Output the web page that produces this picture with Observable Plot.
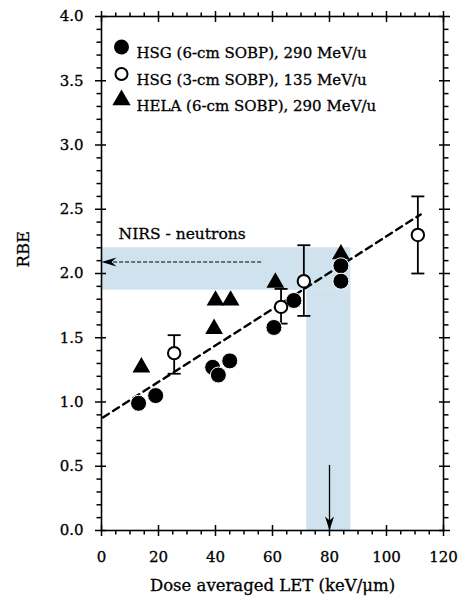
<!DOCTYPE html>
<html><head><meta charset="utf-8">
<script src="https://cdn.jsdelivr.net/npm/d3@7"></script>
<script src="https://cdn.jsdelivr.net/npm/@observablehq/plot@0.6"></script>
<style>
html,body{margin:0;padding:0;background:#fff;}
#chart svg{display:block;}
#chart svg text{stroke:#000;stroke-width:0.3px;}
</style></head>
<body><div id="chart"></div>
<script>
// ---- data ----
const hsg6X = [13, 19, 39, 41, 45, 60.5, 67.5, 84, 84];
const hsg6Y = [0.99, 1.05, 1.27, 1.21, 1.32, 1.58, 1.79, 2.06, 1.94];

const hsg3X  = [25.5, 63, 71, 111];
const hsg3Y  = [1.38, 1.74, 1.94, 2.30];
const hsg3Lo = [1.22, 1.61, 1.67, 2.00];
const hsg3Hi = [1.52, 1.88, 2.22, 2.60];

const helaX = [14, 39.5, 40, 45.3, 61, 84];
const helaY = [1.27, 1.57, 1.79, 1.79, 1.93, 2.15];

const fitX = [0.5, 112];
const fitY = [0.88, 2.46];

const bandX1 = [0, 72];
const bandX2 = [87.5, 87.5];
const bandY1 = [1.87, 0];
const bandY2 = [2.20, 1.87];

const nirsLabel = "NIRS - neutrons";
const nirsLabelX = 6, nirsLabelY = 2.31;
const nirsArrowX = [56, 0], nirsArrowY = 2.09;
const letArrowX = 80, letArrowY = [0.51, 0];

const legendLabels = ["HSG (6-cm SOBP), 290 MeV/u", "HSG (3-cm SOBP), 135 MeV/u", "HELA (6-cm SOBP), 290 MeV/u"];

const xMajor = [0, 20, 40, 60, 80, 100, 120];
const xMinor = [5,10,15,25,30,35,45,50,55,65,70,75,85,90,95,105,110,115];
const yMajor = [0, 0.5, 1, 1.5, 2, 2.5, 3, 3.5, 4];
const yMinor = d3.range(0, 41).filter(i => i % 5 !== 0).map(i => i / 10);

const xTitle = "Dose averaged LET (keV/μm)";
const yTitle = "RBE";

// ---- tables ----
const hsg6 = hsg6X.map((x, i) => ({x, y: hsg6Y[i]}));
const hsg3 = hsg3X.map((x, i) => ({x, y: hsg3Y[i], lo: hsg3Lo[i], hi: hsg3Hi[i]}));
const hela = helaX.map((x, i) => ({x, y: helaY[i]}));
const fit = fitX.map((x, i) => ({x, y: fitY[i]}));
const bands = bandX1.map((x1, i) => ({x1, x2: bandX2[i], y1: bandY1[i], y2: bandY2[i]}));

// ---- layout ----
const W = 460, H = 606, mL = 101, mR = 17, mT = 16, mB = 76;
const FONT = "DejaVu Serif";

// custom symbols
const capSym = {draw(ctx, size) { const r = Math.sqrt(size / Math.PI); ctx.moveTo(-r, 0); ctx.lineTo(r, 0); }};
const leftHead = {draw(ctx) { ctx.moveTo(0, 0); ctx.lineTo(15, -4.5); ctx.lineTo(10, 0); ctx.lineTo(15, 4.5); ctx.closePath(); }};
const downHead = {draw(ctx) { ctx.moveTo(0, 0); ctx.lineTo(-4.5, -14); ctx.lineTo(0, -10); ctx.lineTo(4.5, -14); ctx.closePath(); }};

// tick marks on all four sides (outward; major ticks also cross inward)
const tk = {text: null, label: null, stroke: "black", strokeWidth: 1.5};
const tickMarks = [];
for (const a of ["bottom", "top"]) {
  tickMarks.push(Plot.axisX({...tk, anchor: a, ticks: xMinor, tickSize: 4.5}));
  tickMarks.push(Plot.axisX({...tk, anchor: a, ticks: xMajor, tickSize: 6}));
  tickMarks.push(Plot.axisX({...tk, anchor: a, ticks: xMajor, tickSize: -5}));
}
for (const a of ["left", "right"]) {
  tickMarks.push(Plot.axisY({...tk, anchor: a, ticks: yMinor, tickSize: 4.5}));
  tickMarks.push(Plot.axisY({...tk, anchor: a, ticks: yMajor, tickSize: 6}));
  tickMarks.push(Plot.axisY({...tk, anchor: a, ticks: yMajor, tickSize: -5}));
}

const legendDy = [30.5, 57.5, 83.5];
const legendMarks = [];
legendLabels.forEach((lab, i) => {
  const base = {frameAnchor: "top-left", dx: 20, dy: legendDy[i]};
  if (i === 0) legendMarks.push(Plot.dot([0], {...base, r: 7.5, fill: "black", stroke: "none"}));
  if (i === 1) legendMarks.push(Plot.dot([0], {...base, r: 6, fill: "white", stroke: "black", strokeWidth: 2}));
  if (i === 2) legendMarks.push(Plot.dot([0], {...base, symbol: "triangle", r: 6.8, fill: "black", stroke: "none"}));
  legendMarks.push(Plot.text([lab], {frameAnchor: "top-left", dx: 35, dy: legendDy[i], text: d => d, textAnchor: "start", fontSize: 15}));
});

const chart = Plot.plot({
  width: W, height: H,
  marginLeft: mL, marginRight: mR, marginTop: mT, marginBottom: mB,
  x: {domain: [0, 120], axis: null},
  y: {domain: [0, 4], axis: null},
  style: {fontFamily: FONT, color: "black", background: "white"},
  marks: [
    Plot.rect(bands, {x1: "x1", x2: "x2", y1: "y1", y2: "y2", fill: "#cfe2ee"}),
    Plot.frame({stroke: "black", strokeWidth: 1.6}),
    ...tickMarks,
    Plot.axisX({ticks: xMajor, tickSize: 0, tickPadding: 21, fontSize: 15, label: null, tickFormat: d => String(d)}),
    Plot.axisY({ticks: yMajor, tickSize: 0, tickPadding: 18, fontSize: 15, label: null, tickFormat: d3.format(".1f")}),
    Plot.text([xTitle], {frameAnchor: "bottom", dy: 60, text: d => d, fontSize: 16.5}),
    Plot.text([yTitle], {frameAnchor: "left", dx: -78, dy: -6, rotate: -90, text: d => d, fontSize: 16.5}),
    Plot.line(fit, {x: "x", y: "y", stroke: "black", strokeWidth: 2.4, strokeDasharray: "7,5"}),
    Plot.link([0], {x1: () => nirsArrowX[0], x2: () => nirsArrowX[1] + 1.5, y1: () => nirsArrowY, y2: () => nirsArrowY, stroke: "black", strokeWidth: 1.1, strokeDasharray: "4,2"}),
    Plot.dot([0], {x: () => nirsArrowX[1], y: () => nirsArrowY, symbol: leftHead, fill: "black", stroke: "none"}),
    Plot.link([0], {x1: () => letArrowX, x2: () => letArrowX, y1: () => letArrowY[0], y2: () => letArrowY[1] + 0.05, stroke: "black", strokeWidth: 1.3}),
    Plot.dot([0], {x: () => letArrowX, y: () => letArrowY[1], symbol: downHead, fill: "black", stroke: "none"}),
    Plot.ruleX(hsg3, {x: "x", y1: "lo", y2: "hi", stroke: "black", strokeWidth: 1.8}),
    Plot.dot(hsg3, {x: "x", y: "lo", symbol: capSym, r: 6.5, stroke: "black", strokeWidth: 1.8, fill: "none"}),
    Plot.dot(hsg3, {x: "x", y: "hi", symbol: capSym, r: 6.5, stroke: "black", strokeWidth: 1.8, fill: "none"}),
    Plot.dot(hela, {x: "x", y: "y", symbol: "triangle", r: 6.6, fill: "black", stroke: "none"}),
    Plot.dot(hsg6, {x: "x", y: "y", r: 8, fill: "black", stroke: "white", strokeWidth: 1}),
    Plot.dot(hsg3, {x: "x", y: "y", r: 6.2, fill: "white", stroke: "black", strokeWidth: 2}),
    Plot.text([nirsLabel], {x: () => nirsLabelX, y: () => nirsLabelY, text: d => d, textAnchor: "start", fontSize: 15.5}),
    ...legendMarks
  ]
});
document.getElementById("chart").append(chart);
</script>
</body></html>
